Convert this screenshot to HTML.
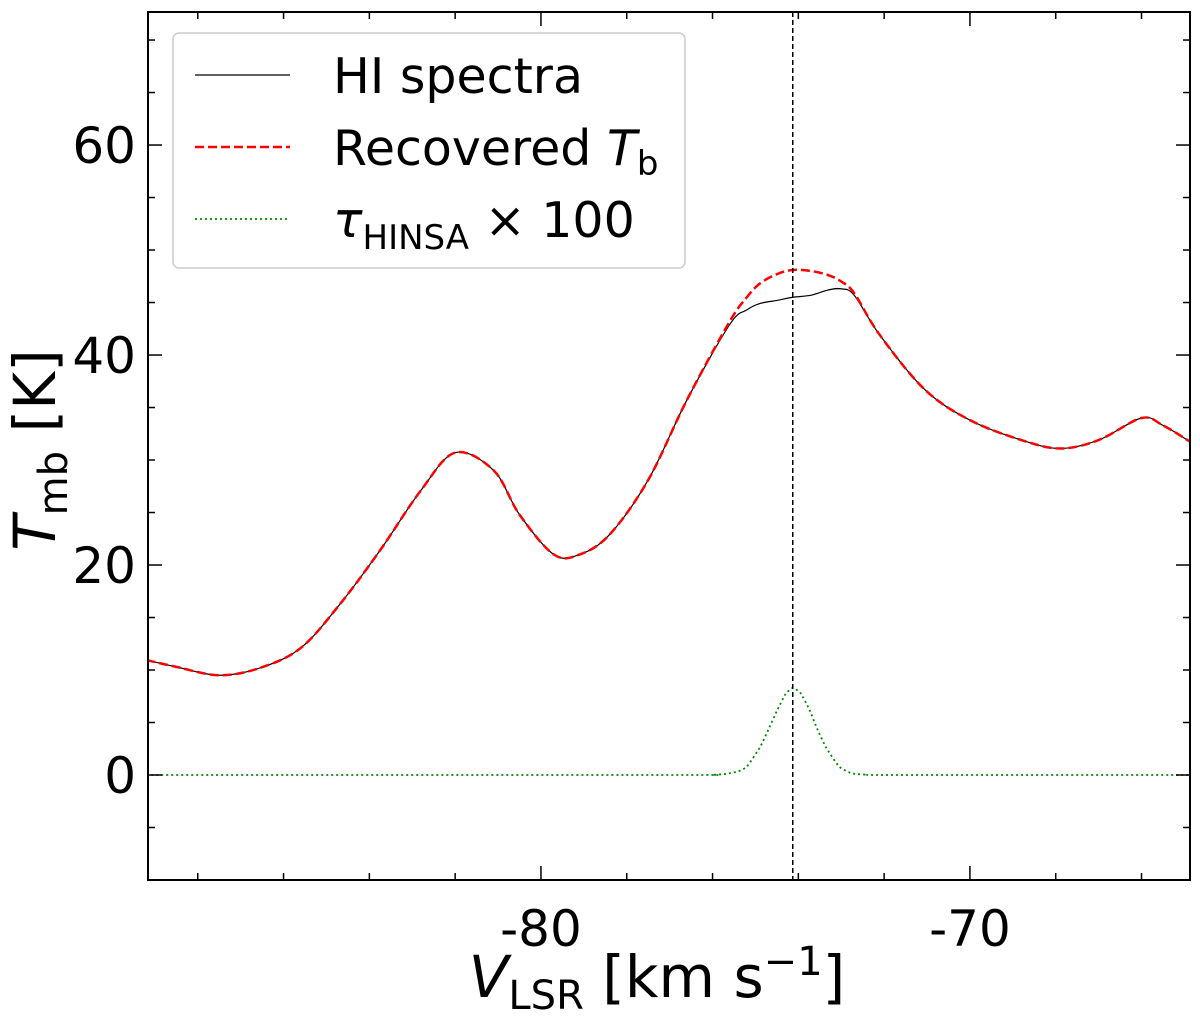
<!DOCTYPE html>
<html><head><meta charset="utf-8"><style>
html,body{margin:0;padding:0;background:#fff}
svg{display:block;font-family:"DejaVu Sans","Liberation Sans",sans-serif}
</style></head><body>
<svg id="c" width="1200" height="1016" viewBox="0 0 1200 1016">
<g id="plot"></g>
</svg>
<script>
const velHI=[-89.2,-88.5,-87.5,-86.55,-85.6,-84.7,-83.75,-82.8,-82.0,-81.1,-80.5,-79.7,-79.1,-78.4,-77.5,-76.6,-75.6,-75.2,-74.9,-74.5,-74.13,-73.7,-73.3,-73.0,-72.7,-72.1,-71.05,-70.0,-68.8,-67.9,-67.0,-66.0,-65.5,-64.85];
const tempHI=[10.95,10.3,9.5,10.2,12.1,16.2,21.4,27.1,30.7,29.0,24.8,21.0,21.0,22.9,28.1,35.7,42.9,44.3,44.9,45.2,45.5,45.7,46.2,46.3,45.7,41.9,36.7,33.8,31.9,31.1,31.9,34.0,33.3,31.7];
const tempRec=[10.95,10.3,9.5,10.2,12.1,16.2,21.4,27.1,30.7,29.0,24.8,21.0,21.0,22.9,28.1,35.7,43.2,45.5,46.8,47.7,48.1,48.0,47.6,47.0,45.9,41.9,36.7,33.8,31.9,31.1,31.9,34.0,33.3,31.7];
const velTau=[-89.2,-76.5,-76.0,-75.7,-75.4,-75.2,-74.9,-74.7,-74.5,-74.3,-74.13,-73.95,-73.75,-73.55,-73.35,-73.05,-72.75,-72.4,-72.0,-64.85];
const tau100=[0,0,0.02,0.1,0.35,0.8,2.6,4.3,6.1,7.7,8.3,7.8,6.3,4.3,2.6,0.8,0.15,0.03,0,0];
const xTicks=[-80,-70];
const yTicks=[0,20,40,60];
const vLine=-74.13;

const L=148,R=1190,T=12,B=880,xmin=-89.16,xmax=-64.87,ymin=-10,ymax=72.67;
const X=v=>L+(v-xmin)/(xmax-xmin)*(R-L);
const Y=t=>B-(t-ymin)/(ymax-ymin)*(B-T);
const g=document.getElementById('plot');
const NS='http://www.w3.org/2000/svg';
function mk(tag,attrs,parent){const e=document.createElementNS(NS,tag);for(const k in attrs)e.setAttribute(k,attrs[k]);(parent||g).appendChild(e);return e;}
function smooth(xs,ys,k){
  k=k||6;
  const p=xs.map((v,i)=>[X(v),Y(ys[i])]);
  let d='M'+p[0][0]+','+p[0][1];
  for(let i=0;i<p.length-1;i++){
    const p0=p[Math.max(0,i-1)],p1=p[i],p2=p[i+1],p3=p[Math.min(p.length-1,i+2)];
    const c1=[p1[0]+(p2[0]-p0[0])/k,p1[1]+(p2[1]-p0[1])/k];
    const c2=[p2[0]-(p3[0]-p1[0])/k,p2[1]-(p3[1]-p1[1])/k];
    d+=' C'+c1[0]+','+c1[1]+' '+c2[0]+','+c2[1]+' '+p2[0]+','+p2[1];
  }
  return d;
}
const clip=mk('clipPath',{id:'cp'});mk('rect',{x:L,y:T,width:R-L,height:B-T},clip);
const series=mk('g',{'clip-path':'url(#cp)'});
let e;
e=mk('path',{d:smooth(velHI,tempHI),fill:'none',stroke:'#000','stroke-width':1.2},series);


e=mk('path',{d:smooth(velHI,tempRec),fill:'none',stroke:'#f00','stroke-width':2.5,'stroke-dasharray':'9,4'},series);


e=mk('path',{d:smooth(velTau,tau100,12),fill:'none',stroke:'#080','stroke-width':1.8,'stroke-dasharray':'2,3'},series);


e=mk('line',{x1:X(vLine),x2:X(vLine),y1:T,y2:B,stroke:'#000','stroke-width':1.5,'stroke-dasharray':'5,3'});


for(let v=-88;v<=-65;v+=2){const x=X(v);const major=xTicks.includes(v);const len=major?14:7;
  mk('line',{x1:x,x2:x,y1:B,y2:B-len,stroke:'#000','stroke-width':1.5});
  mk('line',{x1:x,x2:x,y1:T,y2:T+len,stroke:'#000','stroke-width':1.5});}
for(let t=-5;t<=70;t+=5){const y=Y(t);const major=yTicks.includes(t);const len=major?14:7;
  mk('line',{x1:L,x2:L+len,y1:y,y2:y,stroke:'#000','stroke-width':1.5});
  mk('line',{x1:R,x2:R-len,y1:y,y2:y,stroke:'#000','stroke-width':1.5});}
xTicks.forEach(v=>{e=mk('text',{x:X(v),y:B+66,'text-anchor':'middle','font-size':50});e.textContent=v;

});
yTicks.forEach(t=>{e=mk('text',{x:L-12,y:Y(t)+18,'text-anchor':'end','font-size':50});e.textContent=t;

});
e=mk('rect',{x:L,y:T,width:R-L,height:B-T,fill:'none',stroke:'#000','stroke-width':2});


</script>
<svg style="position:absolute;left:0;top:0" width="1200" height="1016">
<g>
<rect x="173" y="33" width="512" height="235" rx="6" fill="#fff" fill-opacity="0.85" stroke="#ccc" stroke-width="1.5"/>
<line x1="195" x2="290" y1="75" y2="75" stroke="#000" stroke-width="1.2"/>
<text x="333" y="93" font-size="49">HI spectra</text>
<line x1="195" x2="290" y1="147" y2="147" stroke="#f00" stroke-width="2.5" stroke-dasharray="9,4"/>
<text x="333" y="165" font-size="49">Recovered <tspan font-style="italic">T</tspan><tspan font-size="34" dy="10">b</tspan></text>
<line x1="195" x2="290" y1="219" y2="219" stroke="#080" stroke-width="1.8" stroke-dasharray="2,3"/>
<text x="333" y="237" font-size="49"><tspan font-style="italic">τ</tspan><tspan font-size="34" dy="12">HINSA</tspan><tspan dy="-12"> × 100</tspan></text>
</g>
<text x="657" y="997" font-size="58" text-anchor="middle"><tspan font-style="italic">V</tspan><tspan font-size="40" dy="12">LSR</tspan><tspan dy="-12"> [km s</tspan><tspan font-size="40" dy="-22">−1</tspan><tspan dy="22">]</tspan></text>
<text transform="translate(55,450) rotate(-90)" font-size="58" text-anchor="middle"><tspan font-style="italic">T</tspan><tspan font-size="40" dy="12">mb</tspan><tspan dy="-12"> [K]</tspan></text>
</svg>
</body></html>
